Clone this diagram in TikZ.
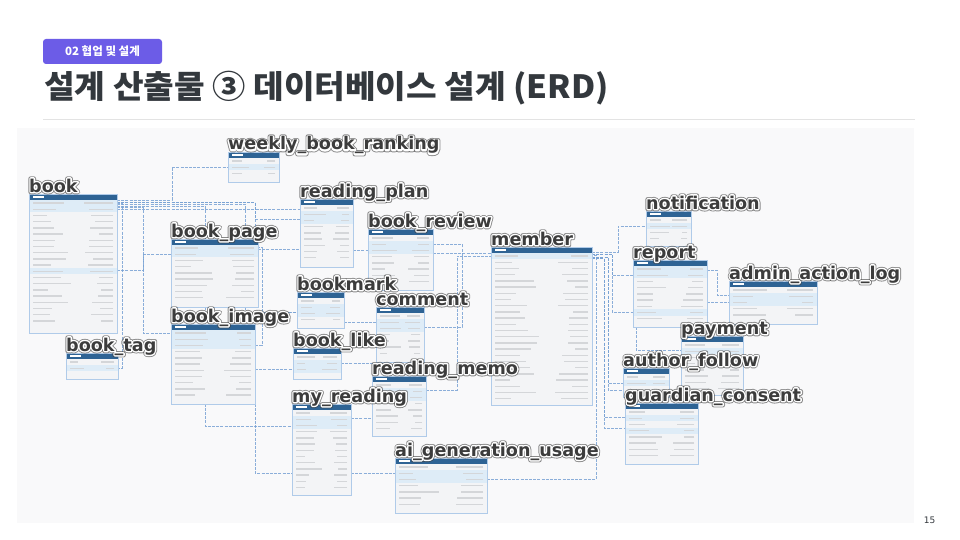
\documentclass[tikz,border=0pt]{standalone}
\usepackage{fontspec}
\setmainfont{DejaVu Sans}
\newfontfamily\krfont{Noto Sans CJK KR}
\usetikzlibrary{positioning, backgrounds}

\definecolor{tagpurple}{RGB}{108,92,231}
\definecolor{titlegray}{RGB}{51,56,61}
\definecolor{shotbg}{RGB}{249,249,250}
\definecolor{tabfill}{RGB}{243,244,246}
\definecolor{tabedge}{RGB}{176,203,233}
\definecolor{tabhead}{RGB}{46,99,148}
\definecolor{tabrow}{RGB}{222,236,247}
\definecolor{barcol}{RGB}{212,214,217}
\definecolor{relcol}{RGB}{120,162,212}
\definecolor{lbldark}{RGB}{60,60,60}

\tikzset{
  tablebox/.style={draw=tabedge, fill=tabfill, line width=0.9pt, inner sep=0pt, outer sep=0pt},
  rowbar/.style={draw=barcol, line width=1.3pt},
  rel/.style={draw=relcol, line width=0.6pt, dash pattern=on 3pt off 1.2pt, opacity=0.85},
  lbl/.style={anchor=base west, inner sep=0pt, yshift=2pt, font=\bfseries\fontsize{17.6}{19}\selectfont},
  lblout/.style={lbl, text=black!75, opacity=0.6},
  lblhalo/.style={lbl, text=white},
  lbltext/.style={lbl, text=lbldark},
}

% stroked text for the halo
\newcommand{\strokedtext}[2]{\special{pdf:literal direct 1 Tr 1 j #1 w}#2\special{pdf:literal direct 0 Tr}}

% one table: name, x1, y1, x2, y2, highlighted rows
\newcommand{\erdtable}[6]{%
  \pgfmathsetmacro\tw{#4-#2}%
  \pgfmathsetmacro\th{#5-#3}%
  \node[tablebox, minimum width=\tw pt, minimum height=\th pt] (#1) at ({(#2+#4)/2},{(#3+#5)/2}) {};
  \foreach \r in {#6}{
    \fill[tabrow] (#2,{#3+6+(\r-1)*6.2}) rectangle (#4,{#3+6+\r*6.2});
  }
  \pgfmathtruncatemacro\nrows{(\th-9)/6.2}%
  \foreach \r in {1,...,\nrows}{
    \pgfmathsetmacro\ry{#3+6+(\r-0.5)*6.2}
    \pgfmathsetmacro\wa{\tw*(0.15+0.3*rnd)}
    \pgfmathsetmacro\wb{\tw*(0.12+0.22*rnd)}
    \draw[rowbar] ({#2+4},\ry) -- ++(\wa,0);
    \draw[rowbar] ({#4-4},\ry) -- ++(-\wb,0);
  }
  \fill[tabhead] (#1.north west) rectangle ([yshift=-6pt]#1.north east);
  \draw[white, line width=1.2pt] ([shift={(4pt,-3pt)}]#1.north west) -- ++(11pt,0pt);
  \draw[tabedge, line width=0.9pt] (#1.north west) rectangle (#1.south east);
}

% table name with halo
\newcommand{\tablabel}[2]{%
  \node[lblout] at (#1.north west) {\strokedtext{4.6}{#2}};
  \node[lblhalo] at (#1.north west) {\strokedtext{2.8}{#2}};
  \node[lbltext] (#1-label) at (#1.north west) {#2};
}

\begin{document}
\begin{tikzpicture}[x=1pt, y=-1pt]
\pgfmathsetseed{11}
\useasboundingbox (0,0) rectangle (960,540);

% header
\node[fill=tagpurple, rounded corners=3pt, minimum width=119pt, minimum height=25pt, inner sep=0pt,
      text=white, font=\krfont\bfseries\fontsize{11.5}{13}\selectfont] (section) at (102.5,51.5) {02 협업 및 설계};
\node[anchor=base west, inner sep=0pt, text=titlegray, xscale=1.04, transform shape,
      font=\krfont\bfseries\fontsize{32}{36}\selectfont] (title) at (44,99) {설계 산출물 ③ 데이터베이스 설계 (ERD)};
\draw[gray!22, line width=0.8pt] (43,119) -- (915,119);
\node[text=titlegray, font=\fontsize{9}{10}\selectfont] (pageno) at (929.5,520) {15};

% tables
\erdtable{book}{29}{194}{117}{333}{1,2,12}
\erdtable{ranking}{228}{152}{279}{182}{2}
\erdtable{plan}{300}{199}{353}{267}{2,3}
\erdtable{review}{368}{229}{433}{290}{2,3}
\erdtable{member}{491}{247}{592}{405}{1}
\erdtable{notif}{646}{211}{691}{246}{2}
\erdtable{report}{633}{260}{707}{327}{1,2,8}
\erdtable{adminlog}{729}{281}{817}{324}{2,3}
\erdtable{payment}{681}{336}{743}{395}{2}
\erdtable{follow}{623}{368}{669}{397}{2}
\erdtable{consent}{625}{403}{698}{464}{2,4}
\erdtable{page}{171}{239}{258}{307}{1,2}
\erdtable{image}{171}{324}{255}{404}{1,2,3}
\erdtable{tag}{66}{353}{118}{379}{2}
\erdtable{bookmark}{297}{292}{344}{328}{2,3}
\erdtable{comment}{376}{307}{424}{362}{2,3}
\erdtable{like}{293}{348}{341}{379}{2,3}
\erdtable{memo}{372}{376}{426}{436}{2,3}
\erdtable{myreading}{292}{404}{351}{495}{2,3}
\erdtable{aiusage}{395}{458}{487}{513}{2,3}

% table names
\foreach \n/\t in {book/book, ranking/weekly\_book\_ranking, plan/reading\_plan, review/book\_review,
    member/member, notif/notification, report/report, adminlog/admin\_action\_log, payment/payment,
    follow/author\_follow, consent/guardian\_consent, page/book\_page, image/book\_image, tag/book\_tag,
    bookmark/bookmark, comment/comment, like/book\_like, memo/reading\_memo, myreading/my\_reading,
    aiusage/ai\_generation\_usage}{
  \tablabel{\n}{\t}
}

\begin{scope}[on background layer]
  \fill[white] (0,0) rectangle (960,540);
  \fill[shotbg] (17,128) rectangle (914,523);

  % relations
  \draw[rel] (book.east|-0,200) -| (172,167) -- (ranking.west);
  \draw[rel] (book.east|-0,209) -- (plan.west|-0,209);
  \draw[rel] (book.east|-0,202) -| (255,219) -- (plan.west|-0,219);
  \draw[rel] (book.east|-0,204) -| ([xshift=74pt]image.north west);
  \draw[rel] (book.east|-0,206) -| (205,426) -- (myreading.west|-0,426);
  \draw[rel] (book.east|-0,207) -| (143,333) -- (image.west|-0,333);
  \draw[rel] (book.east|-0,270) -| (143,254) -- (page.west|-0,254);
  \draw[rel] (book.east|-0,203) -| (122,368) -- (tag.east|-0,368);
  \draw[rel] (book.east|-0,202) -| (255,247) -| (262,312) -- (bookmark.west|-0,312);
  \draw[rel] (image.east|-0,345) -| (262,312) -- (bookmark.west|-0,312);
  \draw[rel] (image.east|-0,369) -- (like.west|-0,369);
  \draw[rel] (image.south east) |- (myreading.west|-0,473);
  \draw[rel] (page.east|-0,249) -- (plan.west|-0,249);
  \draw[rel] (plan.east|-0,250) -- (review.west|-0,250);
  \draw[rel] (review.east|-0,253) -- (member.west|-0,253);
  \draw[rel] (comment.east|-0,327) -| (462,244) -- (review.east|-0,244);
  \draw[rel] (memo.east|-0,390) -| (457,256) -- (member.west|-0,256);
  \draw[rel] (bookmark.east|-0,322) -- (comment.west|-0,322);
  \draw[rel] (like.east|-0,363) -- (comment.west|-0,363);
  \draw[rel] (myreading.east|-0,418) -- (memo.west|-0,418);
  \draw[rel] (myreading.east|-0,473) -- (aiusage.west|-0,473);
  \draw[rel] (aiusage.east|-0,479) -| (596,255) -- (member.east|-0,255);
  \draw[rel] (member.east|-0,252) -| (618,226) -- (notif.west|-0,226);
  \draw[rel] (member.east|-0,254) -| (612,275) -- (report.west|-0,275);
  \draw[rel] (member.east|-0,254) -| (612,312) -- (report.west|-0,312);
  \draw[rel] (report.east|-0,270) -| (717,295) -- (adminlog.west|-0,295);
  \draw[rel] (report.east|-0,302) -- (adminlog.west|-0,302);
  \draw[rel] ([xshift=3pt]report.south west) |- (payment.west|-0,350);
  \draw[rel] (member.east|-0,257) -| (608,383) -- (follow.west|-0,383);
  \draw[rel] (member.east|-0,257) -| (608,390) -- (follow.west|-0,390);
  \draw[rel] (member.east|-0,258) -| (604,417) -- (consent.west|-0,417);
  \draw[rel] (member.east|-0,258) -| (604,428) -- (consent.west|-0,428);
\end{scope}
\end{tikzpicture}
\end{document}
